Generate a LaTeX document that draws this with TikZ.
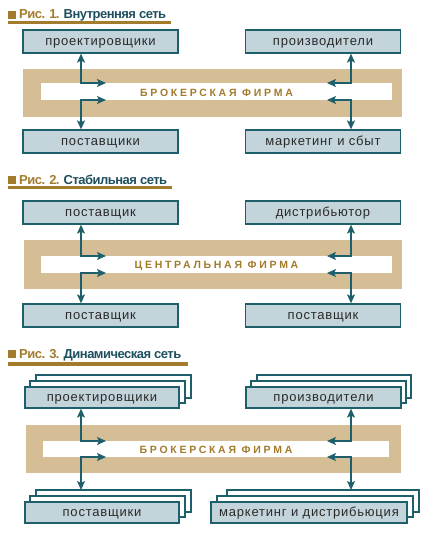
\documentclass[tikz,border=0pt]{standalone}
\usepackage{fontspec}
\setmainfont{Liberation Sans}
\usetikzlibrary{arrows.meta}
\definecolor{boxfill}{HTML}{C3D4DA}
\definecolor{teal}{HTML}{1D5F6B}
\definecolor{tan}{HTML}{D5BD95}
\definecolor{brn}{HTML}{A27B2C}
\definecolor{tteal}{HTML}{1E4F5E}
\definecolor{txt}{HTML}{2A2A2A}
\begin{document}
\begin{tikzpicture}[x=1pt,y=-1pt,
  box/.style={draw=teal,line width=1.3pt,fill=boxfill,inner sep=0pt,
    minimum width=155pt,minimum height=23pt,text=txt,text height=8.4pt,text depth=0pt,
    font=\fontsize{13}{15}\selectfont\addfontfeature{LetterSpace=6}},
  layer/.style={draw=teal,line width=1.3pt,fill=white},
  arr/.style={draw=teal,line width=1.3pt,line join=miter,
    {Stealth[length=9pt,width=8pt,inset=2pt]}-{Stealth[length=9pt,width=8pt,inset=2pt]}},
  firm/.style={text=brn,inner sep=0pt,text height=7pt,text depth=0pt,
    font=\fontsize{10.5}{12}\selectfont\bfseries\addfontfeature{LetterSpace=26}},
  ttl/.style={anchor=base west,inner sep=0pt,
    font=\fontsize{13}{15}\selectfont\bfseries\addfontfeature{LetterSpace=-4}},
]
\useasboundingbox (0,0) rectangle (423,538);
% ---------- Panel 1 ----------
\fill[brn] (8,11) rectangle (16,19);
\node[ttl] (t1) at (19,19) {\textcolor{brn}{Рис. 1.} \textcolor{tteal}{Внутренняя сеть}};
\fill[brn] (8,21) rectangle (171,24);
\fill[tan] (23,69) rectangle (402,117);
\fill[white] (41,83) rectangle (392,100);
\node[firm] (f1) at (216.5,92.5) {БРОКЕРСКАЯ ФИРМА};
\node[box] (b1a) at (100.5,41.5) {проектировщики};
\node[box] (b1b) at (323,41.5) {производители};
\node[box] (b1c) at (100.5,141.5) {поставщики};
\node[box] (b1d) at (323,141.5) {маркетинг и сбыт};
\coordinate (j1a) at (81,83);  \coordinate (e1a) at (106,83);
\coordinate (j1c) at (81,100); \coordinate (e1c) at (106,100);
\coordinate (j1b) at (351,83);  \coordinate (e1b) at (327,83);
\coordinate (j1d) at (351,100); \coordinate (e1d) at (327,100);
\draw[arr] (j1a |- b1a.south) -- (j1a) -- (e1a);
\draw[arr] (j1c |- b1c.north) -- (j1c) -- (e1c);
\draw[arr] (j1b |- b1b.south) -- (j1b) -- (e1b);
\draw[arr] (j1d |- b1d.north) -- (j1d) -- (e1d);
% ---------- Panel 2 ----------
\fill[brn] (8,176) rectangle (16,184);
\node[ttl] (t2) at (19,184) {\textcolor{brn}{Рис. 2.} \textcolor{tteal}{Стабильная сеть}};
\fill[brn] (8,186) rectangle (172,189);
\fill[tan] (24,240) rectangle (402,289);
\fill[white] (41,256) rectangle (392,273);
\node[firm] (f2) at (216.5,265) {ЦЕНТРАЛЬНАЯ ФИРМА};
\node[box] (b2a) at (100.5,212.5) {поставщик};
\node[box] (b2b) at (323,212.5) {дистрибьютор};
\node[box] (b2c) at (100.5,315.5) {поставщик};
\node[box] (b2d) at (323,315.5) {поставщик};
\coordinate (j2a) at (81,256);  \coordinate (e2a) at (106,256);
\coordinate (j2c) at (81,273);  \coordinate (e2c) at (106,273);
\coordinate (j2b) at (351,256); \coordinate (e2b) at (327,256);
\coordinate (j2d) at (351,273); \coordinate (e2d) at (327,273);
\draw[arr] (j2a |- b2a.south) -- (j2a) -- (e2a);
\draw[arr] (j2c |- b2c.north) -- (j2c) -- (e2c);
\draw[arr] (j2b |- b2b.south) -- (j2b) -- (e2b);
\draw[arr] (j2d |- b2d.north) -- (j2d) -- (e2d);
% ---------- Panel 3 ----------
\fill[brn] (8,350) rectangle (16,358);
\node[ttl] (t3) at (19,358) {\textcolor{brn}{Рис. 3.} \textcolor{tteal}{Динамическая сеть}};
\fill[brn] (8,362) rectangle (188,366);
\fill[tan] (26,425) rectangle (401,473);
\fill[white] (43,441) rectangle (389,457);
\node[firm] (f3) at (216,449.5) {БРОКЕРСКАЯ ФИРМА};
% stacked layers
\draw[layer] (36,375) rectangle (191,398);
\draw[layer] (30,381) rectangle (185,403);
\draw[layer] (257,375) rectangle (411,398);
\draw[layer] (251,381) rectangle (406,403);
\draw[layer] (36,490) rectangle (191,512);
\draw[layer] (30,496) rectangle (185,517);
\draw[layer] (227,490) rectangle (419,512);
\draw[layer] (217,496) rectangle (413,517);
\coordinate (l3c) at (81,490);
\coordinate (l3d) at (351,490);
\node[box,minimum width=154pt,minimum height=21pt] (b3a) at (102,397.5) {проектировщики};
\node[box,minimum width=155pt,minimum height=21pt] (b3b) at (323.5,397.5) {производители};
\node[box,minimum width=154pt,minimum height=21pt] (b3c) at (102,512.5) {поставщики};
\node[box,minimum width=196pt,minimum height=21pt] (b3d) at (309,512.5) {маркетинг и дистрибьюция};
\coordinate (j3a) at (81,441);  \coordinate (e3a) at (106,441);
\coordinate (j3c) at (81,457);  \coordinate (e3c) at (106,457);
\coordinate (j3b) at (351,441); \coordinate (e3b) at (327,441);
\coordinate (j3d) at (351,457); \coordinate (e3d) at (327,457);
\draw[arr] (j3a |- b3a.south) -- (j3a) -- (e3a);
\draw[arr] (l3c) -- (j3c) -- (e3c);
\draw[arr] (j3b |- b3b.south) -- (j3b) -- (e3b);
\draw[arr] (l3d) -- (j3d) -- (e3d);
\end{tikzpicture}
\end{document}
